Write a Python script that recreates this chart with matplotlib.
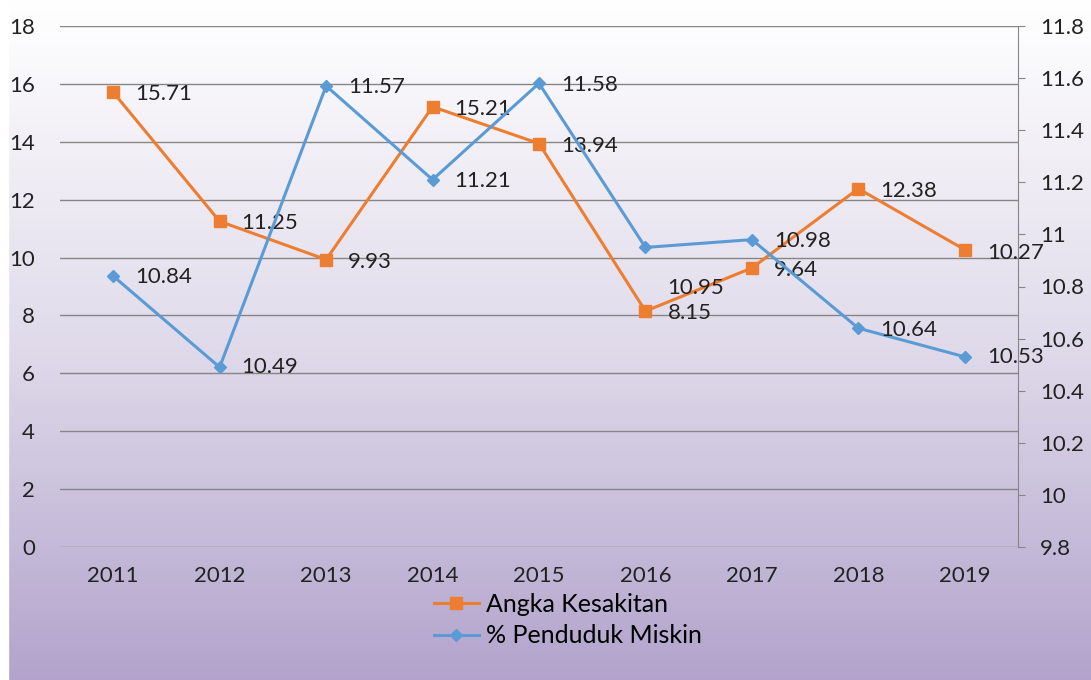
import numpy as np
import matplotlib.pyplot as plt

years = ['2011', '2012', '2013', '2014', '2015', '2016', '2017', '2018', '2019']
angka_kesakitan = [15.71, 11.25, 9.93, 15.21, 13.94, 8.15, 9.64, 12.38, 10.27]
penduduk_miskin = [10.84, 10.49, 11.57, 11.21, 11.58, 10.95, 10.98, 10.64, 10.53]

# label offsets (pixels) relative to each marker
off_orange = [(22, -2), (22, -2), (22, -2), (22, -2), (22, -2), (22, -2), (22, -2), (22, -2), (22, -3)]
off_blue = [(22, -1), (22, 0), (22, -1), (22, -1), (22, -2), (22, -41), (22, -1), (22, -2), (22, 0)]

plt.rcParams['font.family'] = ['Lato', 'DejaVu Sans']

fig = plt.figure(figsize=(10.91, 6.80), dpi=100)

# gradient background
bg = fig.add_axes([0, 0, 1, 1], zorder=-10)
t = np.linspace(0, 1, 256)[:, None]
top = np.array([1.0, 1.0, 1.0])
mid = np.array([0.88, 0.86, 0.92])
bot = np.array([0.70, 0.64, 0.80])
cols = np.where(t < 0.5, top + (mid - top) * (t / 0.5), mid + (bot - mid) * ((t - 0.5) / 0.5))
img = np.repeat(cols[:, None, :], 2, axis=1).reshape(256, 2, 3)
bg.imshow(img, aspect='auto', extent=[0, 1, 0, 1], origin='upper')
bg.axvspan(0, 8 / 1091, color='white')
bg.set_xlim(0, 1)
bg.set_ylim(0, 1)
bg.axis('off')

ax = fig.add_axes([60 / 1091, 1 - 547 / 680, 958 / 1091, 521 / 680])
ax.patch.set_alpha(0)
x = np.arange(len(years))

ax.set_ylim(0, 18)
ax.set_yticks(np.arange(0, 19, 2))
ax.set_xlim(-0.5, len(years) - 0.5)
ax.set_xticks(x)
ax.set_xticklabels(years)
ax.grid(axis='y', color='#868686', linewidth=1)
ax.set_axisbelow(True)
for s in ax.spines.values():
    s.set_visible(False)
ax.tick_params(axis='both', length=0, labelsize=16, colors='#222222')
ax.tick_params(axis='x', pad=14)
ax.tick_params(axis='y', pad=18)

ax2 = ax.twinx()
ax2.set_ylim(9.8, 11.8)
ax2.set_yticks(np.round(np.arange(9.8, 11.81, 0.2), 1))
ax2.set_yticklabels(['9.8', '10', '10.2', '10.4', '10.6', '10.8', '11', '11.2', '11.4', '11.6', '11.8'])
for s in ['top', 'left', 'bottom']:
    ax2.spines[s].set_visible(False)
ax2.spines['right'].set_color('#868686')
ax2.tick_params(axis='y', length=5, labelsize=16, pad=11)
ax2.tick_params(axis='y', colors='#868686', labelcolor='#222222')

l1, = ax.plot(x, angka_kesakitan, color='#ED7D31', lw=2.2, marker='s', ms=8.5,
              label='Angka Kesakitan', zorder=3)
l2, = ax2.plot(x, penduduk_miskin, color='#5B9BD5', lw=2.2, marker='D', ms=6.5,
               label='% Penduduk Miskin', zorder=3)

for i, v in enumerate(angka_kesakitan):
    ax.annotate(f'{v:.2f}', (x[i], v), xytext=off_orange[i], textcoords='offset pixels',
                ha='left', va='center', fontsize=16, color='#222222')
for i, v in enumerate(penduduk_miskin):
    ax2.annotate(f'{v:.2f}', (x[i], v), xytext=off_blue[i], textcoords='offset pixels',
                 ha='left', va='center', fontsize=16, color='#222222')

fig.legend(handles=[l1, l2], loc='center', bbox_to_anchor=(568 / 1091, 1 - 620 / 680),
           frameon=False, fontsize=18, handlelength=1.8, handletextpad=0.3,
           labelspacing=0.35, ncol=1)

fig.savefig('out.png', dpi=100)
